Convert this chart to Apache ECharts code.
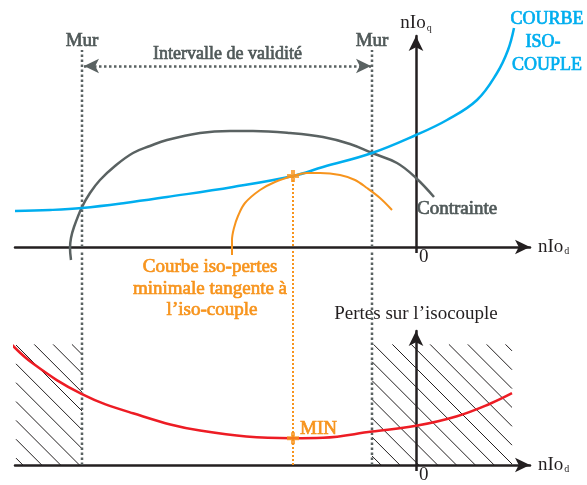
<!DOCTYPE html>
<html>
<head>
<meta charset="utf-8">
<script src="https://cdn.jsdelivr.net/npm/echarts@6/dist/echarts.min.js"></script>
<style>
  html, body { margin: 0; padding: 0; background: #ffffff; }
  #chart { width: 587px; height: 485px; }
</style>
</head>
<body>
<div id="chart"></div>
<script>
// Plane (nIod, nIoq): iso-torque curve, constraint ellipse, tangent iso-loss curve
const isoCoupleX = [-40.1, -36.6, -33.4, -29.1, -24.9, -18.3, -12.3, -9.3, -4.4, 0, 3.1, 6.1, 8.1, 9.2, 9.8];
const isoCoupleY = [3.6, 3.7, 3.9, 4.4, 5.0, 6.0, 7.1, 8.0, 9.4, 11.2, 12.7, 14.7, 17.4, 19.7, 21.9];

const contrainteX = [-34.5, -34.6, -34.5, -34.2, -33.4, -32.6, -31.6, -30.1, -28.3, -26.6, -24.9, -21.6, -18.6, -16.3, -12.6, -9.3, -6.6, -4.4, -1.9, 0, 1.8];
const contrainteY = [-1.3, -0.1, 0.9, 2.0, 4.0, 5.4, 6.7, 8.1, 9.4, 10.1, 10.7, 11.4, 11.6, 11.6, 11.4, 11.0, 10.3, 9.4, 8.4, 6.9, 5.0];

const isoPertesX = [-18.4, -18.4, -18.2, -17.8, -17.1, -15.6, -14.1, -12.3, -10.9, -9.6, -7.6, -6.1, -4.9, -3.6, -2.4];
const isoPertesY = [-0.8, 0.7, 1.9, 3.1, 4.4, 5.7, 6.5, 7.1, 7.4, 7.4, 7.2, 6.7, 5.9, 4.9, 3.7];

// Losses along the iso-torque curve versus nIod
const pertesX = [-40.9, -38.3, -33.4, -28.3, -21.6, -12.3, -9.3, -4.4, 0, 4.1, 7.4, 9.6];
const pertesY = [13.1, 10.6, 7.4, 5.4, 3.6, 2.8, 2.85, 3.5, 4.1, 5.1, 6.4, 7.5];

// Walls bounding the validity interval, and the optimum point
const murX = [-33.4, -4.4];
const murTop = 19.7;
const optimumX = -12.3;
const optimumY = 7.1;
const minPertes = 2.8;
const intervalleY = 18.1;
const intervalle = [-33.2, -4.5];

// Forbidden zones (x from, x to, height) on the loss plot
const hatchZones = [[-40.0, -33.4, 12.6], [-4.4, 9.6, 12.6]];

const xTickLabels = ['0'];

const C_AXIS = '#231f20';
const C_GRAY = '#5a6262';
const C_TEXT = '#505959';
const C_BLUE = '#00aeef';
const C_ORANGE = '#f7941d';
const C_RED = '#ed1c24';
const SERIF = '"Liberation Serif"';

const zip = (xs, ys) => xs.map((x, i) => [x, ys[i]]);
const topToBottom = 22.4; // top x-axis height seen from the lower plot

const richSub = {
  v: { fontFamily: SERIF, fontSize: 19, color: C_AXIS },
  s: { fontFamily: SERIF, fontSize: 10, color: C_AXIS, verticalAlign: 'bottom', padding: [9, 0, 0, 1] }
};

function xAxisFor(idx) {
  return {
    type: 'value', gridIndex: idx, min: -40.1, max: 11.4,
    name: '{v|nIo}{s|d}', nameLocation: 'end', nameGap: 8,
    nameTextStyle: { rich: richSub },
    axisLine: { show: true, onZero: true, symbol: ['none', 'arrow'], symbolSize: [11, 15],
      lineStyle: { color: C_AXIS, width: 2.5 } },
    axisTick: { show: true, customValues: [0], length: 6, lineStyle: { color: C_AXIS, width: 2.5 } },
    axisLabel: { show: true, customValues: [0], formatter: () => xTickLabels[0], margin: 1,
      align: 'left', padding: [0, 0, 0, 3], fontFamily: SERIF, fontSize: 19, color: C_AXIS },
    splitLine: { show: false }
  };
}

function yAxisFor(idx, max, name, gap) {
  return {
    type: 'value', gridIndex: idx, min: 0, max: max,
    name: name, nameLocation: 'end', nameGap: gap,
    nameTextStyle: { fontFamily: SERIF, fontSize: 19, color: C_AXIS, rich: richSub },
    axisLine: { show: true, onZero: true, symbol: ['none', 'arrow'], symbolSize: [11, 15],
      lineStyle: { color: C_AXIS, width: 2.5 } },
    axisTick: { show: false },
    axisLabel: { show: false },
    splitLine: { show: false }
  };
}

const plus = 'path://M4,0H8V4H12V8H8V12H4V8H0V4H4Z';

// Heavy serif annotation (outlined in its own colour for a bold look)
const boldText = (text, x, y, color, align, size) => ({
  type: 'text', x: x, y: y, silent: true, z: 10,
  style: { text: text, fill: color, stroke: color, lineWidth: 0.7,
    fontFamily: SERIF, fontSize: size || 19,
    textAlign: align || 'center', textVerticalAlign: 'middle' }
});

const chart = echarts.init(document.getElementById('chart'), null, { renderer: 'canvas' });

chart.setOption({
  animation: false,
  backgroundColor: '#ffffff',
  grid: [
    { left: 15, width: 515, top: 36, height: 211 },
    { left: 15, width: 515, top: 331, height: 140 }
  ],
  xAxis: [xAxisFor(0), xAxisFor(1)],
  yAxis: [
    yAxisFor(0, 21.1, '{v|nIo}{s|q}', 3),
    yAxisFor(1, 14.0, 'Pertes sur l\u2019isocouple', 7)
  ],
  series: [
    {
      // hatched forbidden zones
      type: 'custom', xAxisIndex: 1, yAxisIndex: 1, clip: false, silent: true, z: 1,
      data: hatchZones,
      renderItem(params, api) {
        const a = api.coord([api.value(0), 0]);
        const b = api.coord([api.value(1), api.value(2)]);
        const L = a[0], R = b[0], T = b[1], B = a[1];
        const step = 18.85;
        const c0 = 329;
        let c = c0 - Math.ceil((c0 - (T - R)) / step) * step;
        const children = [];
        for (; c <= B - L; c += step) {
          const x1 = Math.max(L, T - c);
          const x2 = Math.min(R, B - c);
          if (x2 - x1 > 0.5) {
            children.push({ type: 'line', shape: { x1: x1, y1: x1 + c, x2: x2, y2: x2 + c },
              style: { stroke: C_AXIS, lineWidth: 1 } });
          }
        }
        return { type: 'group', children: children };
      }
    },
    {
      name: 'Mur', type: 'line', xAxisIndex: 0, yAxisIndex: 0, clip: false, silent: true,
      symbol: 'none', data: [[murX[0], 0], [murX[0], murTop], null, [murX[1], 0], [murX[1], murTop]],
      connectNulls: false,
      lineStyle: { color: C_GRAY, width: 2.5, type: 'dotted' },
      markLine: {
        silent: true, symbol: ['arrow', 'arrow'], symbolSize: [11, 15],
        lineStyle: { color: C_GRAY, width: 2.5, type: 'dotted' },
        label: { show: true, position: 'insideMiddleTop', distance: 3, formatter: 'Intervalle de validit\u00e9',
          fontFamily: SERIF, fontSize: 18, color: C_TEXT, textBorderColor: C_TEXT, textBorderWidth: 0.7 },
        data: [[{ coord: [intervalle[0], intervalleY] }, { coord: [intervalle[1], intervalleY] }]]
      }
    },
    {
      type: 'line', xAxisIndex: 1, yAxisIndex: 1, clip: false, silent: true, symbol: 'none',
      data: [[murX[0], 0], [murX[0], topToBottom], null, [murX[1], 0], [murX[1], topToBottom]],
      lineStyle: { color: C_GRAY, width: 2.5, type: 'dotted' }
    },
    {
      type: 'line', xAxisIndex: 0, yAxisIndex: 0, clip: false, silent: true, symbol: 'none',
      data: [[optimumX, optimumY], [optimumX, 0]],
      lineStyle: { color: C_ORANGE, width: 2, type: 'dotted' }
    },
    {
      type: 'line', xAxisIndex: 1, yAxisIndex: 1, clip: false, silent: true, symbol: 'none',
      data: [[optimumX, 0], [optimumX, topToBottom]],
      lineStyle: { color: C_ORANGE, width: 2, type: 'dotted' }
    },
    {
      name: 'Contrainte', type: 'line', xAxisIndex: 0, yAxisIndex: 0, clip: false, symbol: 'none',
      smooth: 0.4, data: zip(contrainteX, contrainteY),
      lineStyle: { color: C_GRAY, width: 2.5 }
    },
    {
      name: 'Courbe iso-couple', type: 'line', xAxisIndex: 0, yAxisIndex: 0, clip: false, symbol: 'none',
      smooth: 0.4, data: zip(isoCoupleX, isoCoupleY),
      lineStyle: { color: C_BLUE, width: 2.5 }
    },
    {
      name: 'Courbe iso-pertes', type: 'line', xAxisIndex: 0, yAxisIndex: 0, clip: false, symbol: 'none',
      smooth: 0.35, data: zip(isoPertesX, isoPertesY),
      lineStyle: { color: C_ORANGE, width: 2 }
    },
    {
      name: 'Pertes', type: 'line', xAxisIndex: 1, yAxisIndex: 1, clip: false, symbol: 'none',
      smooth: 0.4, data: zip(pertesX, pertesY),
      lineStyle: { color: C_RED, width: 2.5 }, z: 3
    },
    {
      type: 'scatter', xAxisIndex: 0, yAxisIndex: 0, clip: false, silent: true, z: 5,
      symbol: plus, symbolSize: 12, itemStyle: { color: C_ORANGE },
      data: [[optimumX, optimumY]]
    },
    {
      type: 'scatter', xAxisIndex: 1, yAxisIndex: 1, clip: false, silent: true, z: 5,
      symbol: plus, symbolSize: 12, itemStyle: { color: C_ORANGE },
      data: [[optimumX, minPertes]]
    }
  ],
  graphic: [
    boldText('Mur', 82, 41, C_TEXT),
    boldText('Mur', 372, 41, C_TEXT),
    boldText('Contrainte', 417, 209, C_TEXT, 'left'),
    boldText('Courbe iso-pertes', 210, 267, C_ORANGE),
    boldText('minimale tangente \u00e0', 210, 289, C_ORANGE),
    boldText('l\u2019iso-couple', 212, 310, C_ORANGE),
    boldText('MIN', 300, 429, C_ORANGE, 'left'),
    boldText('COURBE', 547, 19, C_BLUE, 'center', 18),
    boldText('ISO-', 543, 42, C_BLUE, 'center', 18),
    boldText('COUPLE', 547, 65, C_BLUE, 'center', 18)
  ]
});
</script>
</body>
</html>
